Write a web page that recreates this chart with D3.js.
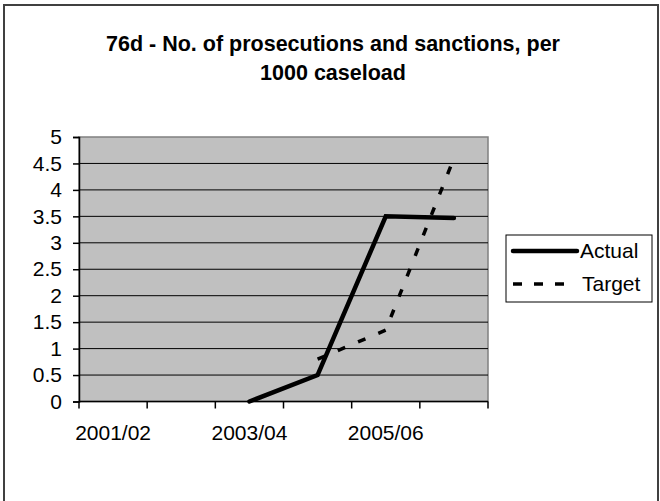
<!DOCTYPE html>
<html>
<head>
<meta charset="utf-8">
<script src="https://cdn.jsdelivr.net/npm/d3@7"></script>
<style>
  body { margin: 0; background: #fff; }
  svg { display: block; font-family: "Liberation Sans", Arial, sans-serif; }
</style>
</head>
<body>
<div id="chart"></div>
<script>
// chart data
const categories = ["2001/02", "2002/03", "2003/04", "2004/05", "2005/06", "2006/07"];
const actual = [null, null, 0, 0.5, 3.5, 3.47];
const target = [null, null, null, 0.8, 1.35, 4.6];
const yTicks = [0, 0.5, 1, 1.5, 2, 2.5, 3, 3.5, 4, 4.5, 5];
const xLabels = ["2001/02", "2003/04", "2005/06"];
const titleLines = ["76d - No. of prosecutions and sanctions, per", "1000 caseload"];

const W = 660, H = 501;
const plot = { left: 79, right: 488, top: 137, bottom: 401.5 };

const svg = d3.select("#chart").append("svg")
  .attr("width", W)
  .attr("height", H);

// outer chart frame (bottom runs off the picture)
svg.append("rect")
  .attr("x", 4).attr("y", 5)
  .attr("width", 654).attr("height", 520)
  .attr("fill", "#fff")
  .attr("stroke", "#404040")
  .attr("stroke-width", 2);

// title
svg.append("text")
  .attr("x", 333).attr("y", 51)
  .attr("text-anchor", "middle")
  .attr("font-size", 21.5)
  .attr("font-weight", "bold")
  .selectAll("tspan")
  .data(titleLines)
  .enter().append("tspan")
    .attr("x", 333)
    .attr("dy", (d, i) => i === 0 ? 0 : 29)
    .text(d => d);

// scales
const x = d3.scaleBand()
  .domain(categories)
  .range([plot.left, plot.right])
  .padding(0);
const cx = c => x(c) + x.bandwidth() / 2;

const y = d3.scaleLinear()
  .domain([0, 5])
  .range([plot.bottom, plot.top]);

// plot background
svg.append("rect")
  .attr("x", plot.left).attr("y", plot.top)
  .attr("width", plot.right - plot.left)
  .attr("height", plot.bottom - plot.top)
  .attr("fill", "#c0c0c0")
  .attr("stroke", "#808080")
  .attr("stroke-width", 1.5);

// gridlines
svg.append("g")
  .selectAll("line")
  .data(yTicks.filter(d => d > 0 && d < 5))
  .enter().append("line")
    .attr("x1", plot.left).attr("x2", plot.right)
    .attr("y1", d => y(d)).attr("y2", d => y(d))
    .attr("stroke", "#000")
    .attr("stroke-width", 1);

// y axis
const yAxis = svg.append("g")
  .attr("transform", `translate(${plot.left},0)`)
  .call(d3.axisLeft(y)
    .tickValues(yTicks)
    .tickSize(6)
    .tickPadding(11)
    .tickFormat(d3.format("")));
yAxis.select(".domain").attr("stroke", "#000").attr("stroke-width", 1.5);
yAxis.selectAll(".tick line").attr("stroke", "#000").attr("stroke-width", 1.5);
yAxis.selectAll("text")
  .attr("font-size", 21)
  .attr("font-family", "Liberation Sans, Arial, sans-serif")
  .attr("fill", "#000");

// x axis: labels at category centres, every other one
const xAxis = svg.append("g")
  .attr("transform", `translate(0,${plot.bottom})`)
  .call(d3.axisBottom(x)
    .tickSize(0)
    .tickPadding(24)
    .tickFormat(d => xLabels.includes(d) ? d : ""));
xAxis.select(".domain").remove();
xAxis.selectAll("text")
  .attr("font-size", 21)
  .attr("font-family", "Liberation Sans, Arial, sans-serif")
  .attr("fill", "#000");

// x axis line and tick marks between categories
const edges = categories.map(c => x(c)).concat([plot.right]);
svg.append("line")
  .attr("x1", plot.left).attr("x2", plot.right)
  .attr("y1", plot.bottom).attr("y2", plot.bottom)
  .attr("stroke", "#000").attr("stroke-width", 1.5);
svg.append("g")
  .selectAll("line")
  .data(edges)
  .enter().append("line")
    .attr("x1", d => d).attr("x2", d => d)
    .attr("y1", plot.bottom).attr("y2", plot.bottom + 7)
    .attr("stroke", "#000").attr("stroke-width", 1.5);

// lines
const line = d3.line()
  .defined(d => d.v !== null)
  .x(d => cx(d.c))
  .y(d => y(d.v));

const toPts = arr => categories.map((c, i) => ({ c: c, v: arr[i] }));

svg.append("path")
  .datum(toPts(target))
  .attr("d", line)
  .attr("fill", "none")
  .attr("stroke", "#000")
  .attr("stroke-width", 3.5)
  .attr("stroke-dasharray", "8,14");

svg.append("path")
  .datum(toPts(actual))
  .attr("d", line)
  .attr("fill", "none")
  .attr("stroke", "#000")
  .attr("stroke-width", 4.5)
  .attr("stroke-linecap", "round")
  .attr("stroke-linejoin", "miter");

// legend
const legend = svg.append("g");
legend.append("rect")
  .attr("x", 506).attr("y", 235)
  .attr("width", 146).attr("height", 67)
  .attr("fill", "#fff")
  .attr("stroke", "#000")
  .attr("stroke-width", 1);

const legendItems = [
  { name: "Actual", dash: null, w: 4.5, cap: "round", x2: 577 },
  { name: "Target", dash: "9,12", w: 3.5, cap: "butt", x2: 566 }
];
legendItems.forEach((d, i) => {
  const ly = 251 + i * 33;
  legend.append("line")
    .attr("x1", 513).attr("x2", d.x2)
    .attr("y1", ly).attr("y2", ly)
    .attr("stroke", "#000")
    .attr("stroke-width", d.w)
    .attr("stroke-linecap", d.cap)
    .attr("stroke-dasharray", d.dash);
  legend.append("text")
    .attr("x", i === 0 ? 580 : 582)
    .attr("y", ly + 7)
    .attr("font-size", 21)
    .text(d.name);
});
</script>
</body>
</html>
